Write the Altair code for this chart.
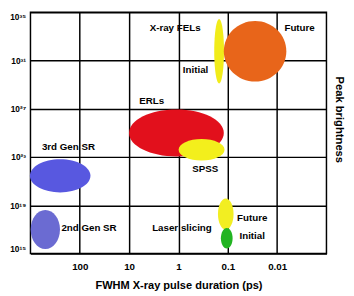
import altair as alt
import pandas as pd

FONT = "Liberation Sans, Arial, Helvetica, sans-serif"

# ---- data ----
ellipse_names = ["2nd Gen SR", "3rd Gen SR", "ERLs", "SPSS", "FEL Initial",
                 "FEL Future", "Laser slicing Future", "Laser slicing Initial"]
ellipse_ps = [500, 250, 1.1, 0.34, 0.15, 0.028, 0.11, 0.105]
ellipse_brightness = [1e17, 2.8e21, 1e25, 4e23, 6e31, 6e31, 1.9e18, 1.9e16]

label_texts = ["X-ray FELs", "Initial", "Future", "ERLs", "3rd Gen SR",
               "2nd Gen SR", "SPSS", "Laser slicing", "Future", "Initial"]
label_ps = [1.17, 0.45, 0.0035, 3.5, 170, 65, 0.285, 0.85, 0.032, 0.032]
label_brightness = [4.5e33, 1.7e30, 4.5e33, 4e27, 7e23, 1.4e17, 1e22, 1.4e17, 9e17, 2.7e16]

x_ticks = [100, 10, 1, 0.1, 0.01]
y_tick_exponents = [15, 19, 23, 27, 31, 35]
y_tick_labels = ["10¹⁵", "10¹⁹", "10²³", "10²⁷", "10³¹", "10³⁵"]

# ---- styles ----
ellipse_colors = ["#6b6bd2", "#5858e0", "#e2101c", "#f3ef1c", "#f1ec1a",
                  "#e8651a", "#f2ee22", "#22b422"]
ellipse_px = [(30, 40), (62, 34), (97, 48), (47, 22), (10, 66), (64, 62), (16, 32), (12, 21)]


def ellipse_path(w, h):
    m = max(w, h)
    rx, ry, k = w / m, h / m, 0.5523
    f = lambda v: f"{v:.4f}"
    return (f"M {f(rx)} 0 C {f(rx)} {f(k*ry)} {f(k*rx)} {f(ry)} 0 {f(ry)} "
            f"C {f(-k*rx)} {f(ry)} {f(-rx)} {f(k*ry)} {f(-rx)} 0 "
            f"C {f(-rx)} {f(-k*ry)} {f(-k*rx)} {f(-ry)} 0 {f(-ry)} "
            f"C {f(k*rx)} {f(-ry)} {f(rx)} {f(-k*ry)} {f(rx)} 0 Z")


df_e = pd.DataFrame({
    "name": ellipse_names,
    "ps": ellipse_ps,
    "b": ellipse_brightness,
    "color": ellipse_colors,
    "shape": [ellipse_path(w, h) for w, h in ellipse_px],
    "size": [max(w, h) ** 2 for w, h in ellipse_px],
})
df_l = pd.DataFrame({"t": label_texts, "ps": label_ps, "b": label_brightness})

y_label_expr = ""
for e, lab in zip(y_tick_exponents, y_tick_labels):
    y_label_expr += f"round(log(datum.value)/LN10) == {e} ? '{lab}' : "
y_label_expr += "''"

x_enc = alt.X(
    "ps:Q",
    scale=alt.Scale(type="log", domain=[0.001, 1000], reverse=True, nice=False),
    axis=alt.Axis(values=x_ticks, labelExpr="format(datum.value, '~g')",
                  title="FWHM X-ray pulse duration (ps)", ticks=False, domain=False,
                  grid=True, labelPadding=8, titlePadding=9,
                  labelFontSize=10, titleFontSize=11.3),
)
y_enc = alt.Y(
    "b:Q",
    scale=alt.Scale(type="log", domain=[1e15, 1e35], nice=False, zero=False),
    axis=alt.Axis(values=[10.0 ** e for e in y_tick_exponents], labelExpr=y_label_expr,
                  title=None, ticks=False, domain=False, grid=True, labelPadding=5,
                  labelFontSize=8.5, labelFlush=True),
)

ellipses = alt.Chart(df_e).mark_point(filled=True, opacity=1, strokeWidth=0).encode(
    x=x_enc, y=y_enc,
    shape=alt.Shape("shape:N", scale=None),
    size=alt.Size("size:Q", scale=None),
    color=alt.Color("color:N", scale=None),
)

labels = alt.Chart(df_l).mark_text(font=FONT, fontSize=10, fontWeight="bold",
                                   color="black").encode(x=x_enc, y=y_enc, text="t:N")

ytitle = alt.Chart(pd.DataFrame({"t": ["Peak brightness"]})).mark_text(
    font=FONT, fontSize=11.5, fontWeight="bold", color="black", angle=90,
    align="center", baseline="middle",
).encode(x=alt.value(316), y=alt.value(110), text="t:N")

chart = alt.layer(ellipses, labels, ytitle).properties(
    width=303, height=247,
    autosize=alt.AutoSizeParams(type="none"),
    padding={"left": 23, "top": 1, "right": 20, "bottom": 40},
    background="white",
).configure_view(stroke="black", strokeWidth=1.5).configure_axis(
    gridColor="black", gridWidth=1.5, gridOpacity=1,
    labelFont=FONT, titleFont=FONT, labelFontWeight="bold", titleFontWeight="bold",
    labelColor="black", titleColor="black",
)

chart.save("out.html", embed_options={"renderer": "svg", "actions": False})
